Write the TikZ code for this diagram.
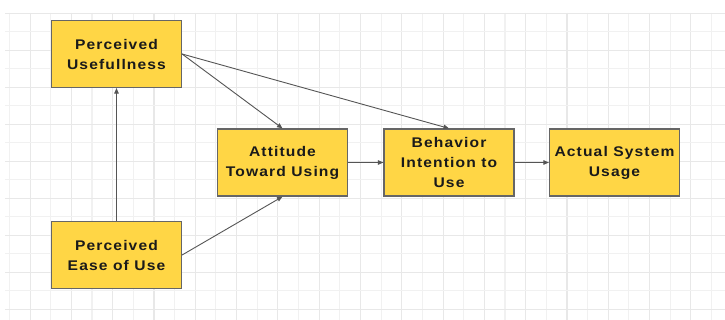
\documentclass[tikz,border=0pt]{standalone}
\usepackage{fontspec}
\newfontfamily\boxfont{Liberation Sans}[FakeStretch=1.116,LetterSpace=8]
\usetikzlibrary{arrows.meta}
\definecolor{boxfill}{HTML}{FFD645}
\definecolor{boxline}{HTML}{666666}
\definecolor{arrowcol}{HTML}{555555}
\definecolor{gridlight}{HTML}{F1F1F1}
\definecolor{griddark}{HTML}{E8E8E8}
\definecolor{textcol}{HTML}{1A1A1A}
\tikzset{
  box/.style={draw=boxline, line width=1.2pt, fill=boxfill, minimum width=130pt, minimum height=67pt,
    inner sep=0pt, align=center, text=textcol, font=\boxfont\bfseries\fontsize{14}{20}\selectfont},
  conn/.style={draw=arrowcol, line width=0.9pt, -{Triangle[length=5.5pt,width=4.5pt]}}
}
\begin{document}
\begin{tikzpicture}[x=1pt,y=-1pt]
\useasboundingbox (0,0) rectangle (725,320);
\fill[white] (0,0) rectangle (725,320);
% grid
\foreach \k in {0,...,34}{
  \pgfmathtruncatemacro{\odd}{mod(\k,2)}
  \ifnum\odd=1
    \draw[griddark, line width=1.1pt] ({9.4+20.65*\k},13) -- ({9.4+20.65*\k},320);
  \else
    \draw[gridlight, line width=1.1pt] ({9.4+20.65*\k},13) -- ({9.4+20.65*\k},320);
  \fi
}
\foreach \k in {0,...,16}{
  \pgfmathtruncatemacro{\odd}{mod(\k,2)}
  \ifnum\odd=0
    \draw[griddark, line width=1.1pt] (5,{13.3+18.5*\k}) -- (725,{13.3+18.5*\k});
  \else
    \draw[gridlight, line width=1.1pt] (5,{13.3+18.5*\k}) -- (725,{13.3+18.5*\k});
  \fi
}
% nodes
\node[box] (pu) at (116.5,54) {Perceived\\Usefullness};
\node[box] (peou) at (116.5,255) {Perceived\\Ease of Use};
\node[box] (att) at (282.5,162.5) {Attitude\\Toward Using};
\node[box] (bi) at (449,162.5) {Behavior\\Intention to\\Use};
\node[box] (asu) at (614.5,162.5) {Actual System\\Usage};
% connectors
\draw[conn] (peou.north) -- (pu.south);
\draw[conn] (pu.east) -- (att.north);
\draw[conn] (pu.east) -- (bi.north);
\draw[conn] (peou.east) -- (att.south);
\draw[conn] (att.east) -- (bi.west);
\draw[conn] (bi.east) -- (asu.west);
\end{tikzpicture}
\end{document}
